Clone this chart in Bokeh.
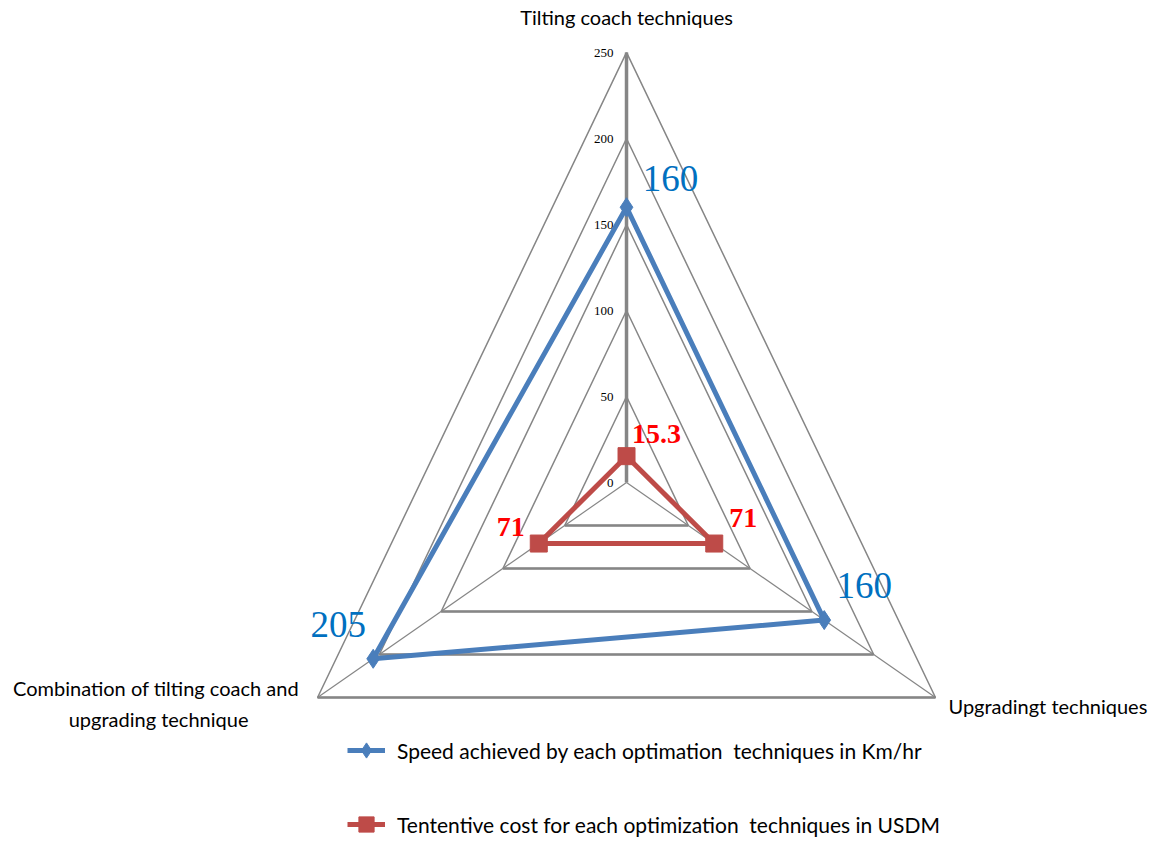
import numpy as np
from bokeh.plotting import figure
from bokeh.models import Range1d, ColumnDataSource, Legend, LegendItem
from bokeh.core.properties import value
from bokeh.embed import file_html
from bokeh.resources import INLINE

# ---- data ----
categories = ["Tilting coach techniques", "Upgradingt techniques",
              "Combination of tilting coach  and\nupgrading technique"]
speed = [160, 160, 205]
cost = [15.3, 71, 71]
speed_labels = ["160", "160", "205"]
cost_labels = ["15.3", "71", "71"]
ticks = [0, 50, 100, 150, 200, 250]
tick_labels = ["0", "50", "100", "150", "200", "250"]
series_names = ["Speed achieved by each optimation  techniques in Km/hr",
                "Tententive cost for each optimization  techniques in USDM"]

# ---- geometry ----
angles = np.radians([0, 120, 240])
sx, sy = np.sin(angles), np.cos(angles)
rmax = ticks[-1]

def polar(vals):
    v = np.asarray(vals, dtype=float)
    return list(v * sx), list(v * sy)

GRID = "#868686"
BLUE = "#4A7EBB"
RED = "#BE4B48"
SANS_STR = "Lato"
SANS = value(SANS_STR)
SERIF = value("'Liberation Serif', 'Times New Roman', serif")

p = figure(width=1156, height=842, output_backend="svg", toolbar_location=None,
           x_range=Range1d(-438.7, 371.4), y_range=Range1d(-209.3, 280.2),
           min_border=0, x_axis_location=None, y_axis_location=None,
           outline_line_color=None)
p.xgrid.visible = False
p.ygrid.visible = False
p.background_fill_color = "white"

# grid triangles
gx, gy = [], []
for t in ticks[1:]:
    x, y = polar([t, t, t])
    gx.append(x + [x[0]])
    gy.append(y + [y[0]])
p.multi_line(gx, gy, line_color=GRID, line_width=1.5)
# bottom (horizontal) edges drawn heavier like the reference
bx0, by0, bx1, by1 = [], [], [], []
for t in ticks[1:]:
    x, y = polar([t, t, t])
    bx0.append(x[2]); by0.append(y[2]); bx1.append(x[1]); by1.append(y[1])
p.segment(bx0, by0, bx1, by1, line_color=GRID, line_width=2.5)

# spokes
ex, ey = polar([rmax] * 3)
p.segment([0, 0], [0, 0], ex[1:], ey[1:], line_color=GRID, line_width=1.2)
p.segment([0], [0], ex[:1], ey[:1], line_color=GRID, line_width=3.5)

# tick labels
p.text([0] * len(ticks), ticks, text=tick_labels, x_offset=-13, y_offset=1,
       text_align="right", text_baseline="middle", text_font=SERIF,
       text_font_size="13px", text_color="#000000")

# category labels
cx, cy = polar([rmax] * 3)
p.text(cx[:1], cy[:1], text=categories[:1], y_offset=-35, text_align="center",
       text_baseline="middle", text_font=SANS, text_font_size="20px", text_color="black")
p.text(cx[1:2], cy[1:2], text=categories[1:2], x_offset=13, y_offset=9, text_align="left",
       text_baseline="middle", text_font=SANS, text_font_size="20px", text_color="black")
p.text(cx[2:], cy[2:], text=categories[2:], x_offset=-159, y_offset=6, text_align="center",
       text_baseline="middle", text_font=SANS, text_font_size="20px", text_color="black",
       text_line_height=1.3)

# series
spx, spy = polar(speed)
cpx, cpy = polar(cost)
l1 = p.line(spx + spx[:1], spy + spy[:1], line_color=BLUE, line_width=5)
m1 = p.scatter(spx, spy, marker="diamond", size=19, fill_color=BLUE, line_color=BLUE)
l2 = p.line(cpx + cpx[:1], cpy + cpy[:1], line_color=RED, line_width=5)
m2 = p.scatter(cpx, cpy, marker="square", size=17, fill_color=RED, line_color=RED)

# data labels
src_s = ColumnDataSource(dict(x=spx, y=spy, t=speed_labels,
                              dx=[44, 40, -35], dy=[-29, -35, -34]))
p.text("x", "y", text="t", x_offset="dx", y_offset="dy", source=src_s,
       text_align="center", text_baseline="middle", text_font=SERIF,
       text_font_size="37px", text_color="#0070C0")
src_c = ColumnDataSource(dict(x=cpx, y=cpy, t=cost_labels,
                              dx=[30, 29, -28], dy=[-22, -26, -17]))
p.text("x", "y", text="t", x_offset="dx", y_offset="dy", source=src_c,
       text_align="center", text_baseline="middle", text_font=SERIF,
       text_font_style="bold", text_font_size="28px", text_color="#FF0000")

legend = Legend(items=[LegendItem(label=series_names[0], renderers=[l1, m1]),
                       LegendItem(label=series_names[1], renderers=[l2, m2])],
                location=(347, -2), orientation="vertical",
                border_line_color=None, background_fill_alpha=0,
                padding=0, margin=0, spacing=34, glyph_width=38, glyph_height=40,
                label_height=40, label_standoff=12, label_text_font=SANS_STR,
                label_text_font_size="21px", label_text_color="black")
p.add_layout(legend)

open("out.html", "w").write(file_html(p, INLINE))
